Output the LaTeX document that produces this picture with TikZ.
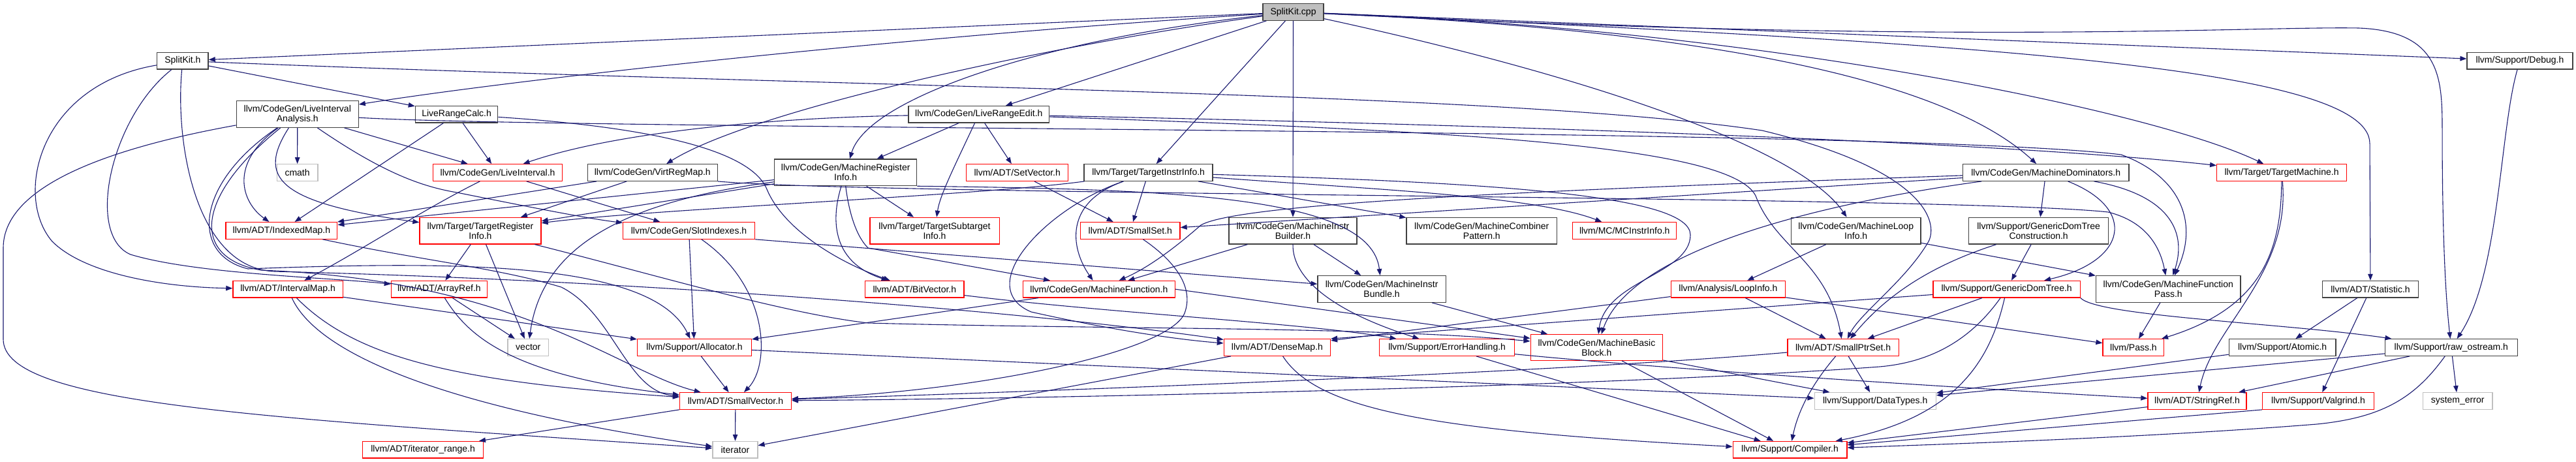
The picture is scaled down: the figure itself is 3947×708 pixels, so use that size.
\documentclass[tikz,border=0pt]{standalone}
\usepackage{fontspec}
\setmainfont{Liberation Sans}
\usetikzlibrary{arrows.meta}
\definecolor{edgec}{HTML}{191970}
\definecolor{redb}{HTML}{FF0000}
\definecolor{grayb}{HTML}{BFBFBF}
\definecolor{blackb}{HTML}{404040}
\definecolor{cppfill}{HTML}{BFBFBF}
\begin{document}
\begin{tikzpicture}[x=1pt,y=-1pt,
  box/.style={rectangle,line width=1.3pt,fill=white,inner sep=0pt,align=center,
    font=\fontsize{14}{15}\selectfont,minimum height=25.5pt},
  bbox/.style={box,draw=blackb},
  rbox/.style={box,draw=redb},
  gbox/.style={box,draw=grayb},
  two/.style={minimum height=40.6pt},
  e/.style={draw=edgec,line width=1.1pt,-{Triangle[length=10pt,width=7.5pt]}}]
\useasboundingbox (0,0) rectangle (3947,708);
% nodes
\node[bbox,fill=cppfill,minimum width=93pt] (cpp) at (1981.5,18.5) {SplitKit.cpp};
\node[bbox,minimum width=78.3pt,minimum height=25.7pt] (skh) at (279.9,93.2) {SplitKit.h};
\node[bbox,minimum width=162pt,minimum height=25.7pt] (dbg) at (3861,93.2) {llvm/Support/Debug.h};
\node[bbox,two,minimum width=186.8pt] (lia) at (455.8,175) {llvm/CodeGen/LiveInterval\\Analysis.h};
\node[bbox,minimum width=126.4pt] (lrc) at (699.6,175.2) {LiveRangeCalc.h};
\node[bbox,minimum width=215.9pt] (lre) at (1499.8,175.2) {llvm/CodeGen/LiveRangeEdit.h};
\node[gbox,minimum width=62.8pt] (cmath) at (455.6,264.5) {cmath};
\node[rbox,minimum width=198.2pt] (li) at (762.6,264.5) {llvm/CodeGen/LiveInterval.h};
\node[bbox,minimum width=198.7pt] (vrm) at (999.8,264.5) {llvm/CodeGen/VirtRegMap.h};
\node[bbox,two,minimum width=218.2pt] (mri) at (1295.7,264.3) {llvm/CodeGen/MachineRegister\\Info.h};
\node[rbox,minimum width=156.1pt] (setv) at (1558.7,264.5) {llvm/ADT/SetVector.h};
\node[bbox,minimum width=197pt] (tii) at (1759.6,264.5) {llvm/Target/TargetInstrInfo.h};
\node[bbox,minimum width=254.6pt] (md) at (3134.7,264.5) {llvm/CodeGen/MachineDominators.h};
\node[rbox,minimum width=198.6pt] (tm) at (3496,264.5) {llvm/Target/TargetMachine.h};
\node[rbox,minimum width=170.8pt] (imap) at (431.4,353.4) {llvm/ADT/IndexedMap.h};
\node[rbox,two,minimum width=186pt] (tri) at (736,353.7) {llvm/Target/TargetRegister\\Info.h};
\node[rbox,minimum width=201.6pt] (si) at (1055.5,353.4) {llvm/CodeGen/SlotIndexes.h};
\node[rbox,two,minimum width=198.3pt] (tsi) at (1432,353.7) {llvm/Target/TargetSubtarget\\Info.h};
\node[rbox,minimum width=152.4pt] (sset) at (1731.8,353.4) {llvm/ADT/SmallSet.h};
\node[bbox,two,minimum width=196pt] (mib) at (1981,353.7) {llvm/CodeGen/MachineInstr\\Builder.h};
\node[bbox,two,minimum width=230.6pt] (mcp) at (2270.3,353.7) {llvm/CodeGen/MachineCombiner\\Pattern.h};
\node[rbox,minimum width=159.1pt] (mcii) at (2489.2,353.4) {llvm/MC/MCInstrInfo.h};
\node[bbox,two,minimum width=198.6pt] (mli) at (2843.7,353.7) {llvm/CodeGen/MachineLoop\\Info.h};
\node[bbox,two,minimum width=213.8pt] (gdtc) at (3123.6,353.7) {llvm/Support/GenericDomTree\\Construction.h};
\node[rbox,minimum width=168.4pt] (ivm) at (441.1,443.2) {llvm/ADT/IntervalMap.h};
\node[rbox,minimum width=147.1pt] (aref) at (672.9,443.2) {llvm/ADT/ArrayRef.h};
\node[rbox,minimum width=151.1pt] (bv) at (1401.3,443.2) {llvm/ADT/BitVector.h};
\node[rbox,minimum width=233.1pt] (mf) at (1683.9,443.2) {llvm/CodeGen/MachineFunction.h};
\node[bbox,two,minimum width=196.2pt] (mibun) at (2117.1,443) {llvm/CodeGen/MachineInstr\\Bundle.h};
\node[rbox,minimum width=175.2pt] (loop) at (2647.9,443.2) {llvm/Analysis/LoopInfo.h};
\node[rbox,minimum width=225.1pt] (gdt) at (3074.6,443.2) {llvm/Support/GenericDomTree.h};
\node[bbox,two,minimum width=221.6pt] (mfp) at (3322.3,443) {llvm/CodeGen/MachineFunction\\Pass.h};
\node[bbox,minimum width=147.2pt] (stat) at (3632,443.2) {llvm/ADT/Statistic.h};
\node[gbox,minimum width=62.8pt] (vec) at (809.3,532.5) {vector};
\node[rbox,minimum width=174.7pt] (alloc) at (1064,532.5) {llvm/Support/Allocator.h};
\node[rbox,minimum width=163.1pt] (dmap) at (1956.9,532.5) {llvm/ADT/DenseMap.h};
\node[rbox,minimum width=206.7pt] (eh) at (2217.1,532.5) {llvm/Support/ErrorHandling.h};
\node[rbox,two,minimum width=202.4pt,minimum height=39.6pt] (mbb) at (2446.4,532.5) {llvm/CodeGen/MachineBasic\\Block.h};
\node[rbox,minimum width=170.4pt] (sps) at (2824.1,532.5) {llvm/ADT/SmallPtrSet.h};
\node[rbox,minimum width=93.8pt] (pass) at (3268.9,532.5) {llvm/Pass.h};
\node[bbox,minimum width=163.6pt] (atom) at (3497.1,532.5) {llvm/Support/Atomic.h};
\node[bbox,minimum width=202.7pt] (ros) at (3755.8,532.5) {llvm/Support/raw\_ostream.h};
\node[rbox,minimum width=170.9pt] (svec) at (1126.9,614.5) {llvm/ADT/SmallVector.h};
\node[gbox,minimum width=186.1pt] (dt) at (2873.2,614.5) {llvm/Support/DataTypes.h};
\node[rbox,minimum width=151.1pt] (sref) at (3366.5,614.5) {llvm/ADT/StringRef.h};
\node[rbox,minimum width=171.2pt] (valg) at (3552,614.5) {llvm/Support/Valgrind.h};
\node[gbox,minimum width=106.7pt] (syserr) at (3765.6,614.5) {system\_error};
\node[rbox,minimum width=184.9pt] (itr) at (648.1,689.2) {llvm/ADT/iterator\_range.h};
\node[gbox,minimum width=69pt] (iter) at (1126.4,689.2) {iterator};
\node[rbox,minimum width=174.7pt] (comp) at (2742.5,689.2) {llvm/Support/Compiler.h};
% SplitKit.cpp
\draw[e] (cpp) -- (skh);
\draw[e] (cpp) .. controls (1400,55) and (800,120) .. (lia);
\draw[e] (cpp) .. controls (1600,70) and (1150,170) .. (vrm);
\draw[e] (cpp) .. controls (1600,60) and (1330,150) .. (mri);
\draw[e] (cpp) -- (lre);
\draw[e] (cpp) -- (tii);
\draw[e] (cpp) -- (mib);
\draw[e] (cpp) .. controls (2450,120) and (2760,230) .. (mli);
\draw[e] (cpp) .. controls (2700,50) and (3000,140) .. (md);
\draw[e] (cpp) .. controls (2700,45) and (3300,170) .. (tm);
\draw[e] (cpp) .. controls (3000,65) and (3631,100) .. (3631,220) -- (stat);
\draw[e] (cpp) .. controls (3000,70) and (3450,40) .. (3614,43) .. controls (3740,48) and (3742,120) .. (3742,200) .. controls (3742,400) and (3750,480) .. (ros);
\draw[e] (cpp) -- (dbg);
% SplitKit.h
\draw[e] (skh) -- (lrc);
\draw[e] (skh) .. controls (60,130) and (20,300) .. (80,370) .. controls (130,420) and (250,440) .. (ivm);
\draw[e] (skh) .. controls (170,180) and (130,360) .. (200,390) .. controls (300,420) and (500,425) .. (aref);
\draw[e] (skh) .. controls (268,220) and (300,410) .. (420,416) .. controls (1000,430) and (1600,480) .. (dmap);
\draw[e] (skh) .. controls (1300,135) and (2300,140) .. (2700,200) .. controls (2950,260) and (2970,340) .. (2955,370) .. controls (2920,430) and (2850,480) .. (sps);
% LiveIntervalAnalysis.h
\draw[e] (lia) -- (cmath);
\draw[e] (lia) .. controls (150,230) and (5,290) .. (5,380) -- (5,520) .. controls (5,620) and (400,640) .. (iter);
\draw[e] (lia) .. controls (350,250) and (370,310) .. (imap);
\draw[e] (lia) .. controls (395,270) and (420,310) .. (tri);
\draw[e] (lia) -- (li);
\draw[e] (lia) .. controls (580,260) and (640,285) .. (700,295) .. controls (800,315) and (900,335) .. (si);
\draw[e] (lia) .. controls (900,200) and (2900,195) .. (3250,237) .. controls (3340,270) and (3370,340) .. (mfp);
\draw[e] (lia) .. controls (300,280) and (290,390) .. (380,412) .. controls (700,400) and (1000,400) .. (alloc);
\draw[e] (lia) .. controls (300,300) and (290,395) .. (400,414) .. controls (800,430) and (950,570) .. (svec);
% LiveRangeCalc.h
\draw[e] (lrc) -- (li);
\draw[e] (lrc) -- (imap);
\draw[e] (lrc) .. controls (1000,195) and (1150,230) .. (1175,290) .. controls (1200,350) and (1280,400) .. (bv);
% LiveRangeEdit.h
\draw[e] (lre) .. controls (1200,180) and (950,200) .. (li);
\draw[e] (lre) -- (mri);
\draw[e] (lre) .. controls (1460,260) and (1440,300) .. (tsi);
\draw[e] (lre) -- (setv);
\draw[e] (lre) .. controls (2000,185) and (3000,210) .. (tm);
\draw[e] (lre) .. controls (2200,200) and (2650,220) .. (2690,300) .. controls (2720,380) and (2800,400) .. (sps);
% VirtRegMap.h
\draw[e] (vrm) -- (imap);
\draw[e] (vrm) -- (tri);
\draw[e] (vrm.south east) .. controls (1350,300) and (3000,300) .. (3230,325) .. controls (3290,340) and (3310,380) .. (mfp);
% MachineRegisterInfo.h
\draw[e] (mri) -- (imap);
\draw[e] (mri) -- (tri);
\draw[e] (mri) .. controls (950,310) and (830,380) .. (vec);
\draw[e] (mri) -- (tsi);
\draw[e] (mri) .. controls (1275,330) and (1270,400) .. (bv);
\draw[e] (mri.south) .. controls (1300,320) and (1310,360) .. (1330,380) -- (mf);
\draw[e] (mri.south east) .. controls (1800,290) and (2100,300) .. (mibun);
% TargetInstrInfo.h
\draw[e] (tii) .. controls (1500,300) and (1000,320) .. (tri);
\draw[e] (tii) .. controls (1600,320) and (1490,440) .. (1580,478) .. controls (1700,505) and (1800,520) .. (dmap);
\draw[e] (tii) .. controls (1630,310) and (1640,380) .. (mf);
\draw[e] (tii) -- (sset);
\draw[e] (tii) -- (mcp);
\draw[e] (tii) .. controls (2100,290) and (2350,300) .. (mcii);
\draw[e] (tii) .. controls (2300,280) and (2590,300) .. (2590,360) .. controls (2590,420) and (2460,430) .. (mbb);
% MachineDominators.h
\draw[e] (md) -- (sset);
\draw[e] (md) .. controls (2400,290) and (1900,310) .. (1840,345) .. controls (1800,380) and (1760,410) .. (mf);
\draw[e] (md) .. controls (2800,310) and (2500,380) .. (mbb);
\draw[e] (md) -- (gdtc);
\draw[e] (md) .. controls (3275,320) and (3260,400) .. (gdt);
\draw[e] (md) .. controls (3330,300) and (3350,360) .. (mfp);
% MachineInstrBuilder.h
\draw[e] (mib) -- (mf);
\draw[e] (mib) -- (mibun);
\draw[e] (mib.south) .. controls (1980,430) and (2050,480) .. (eh);
% MachineLoopInfo.h
\draw[e] (mli) -- (loop);
\draw[e] (mli) -- (mfp);
% GenericDomTreeConstruction.h
\draw[e] (gdtc) .. controls (2980,400) and (2900,440) .. (sps);
\draw[e] (gdtc) -- (gdt);
% others
\draw[e] (mibun) -- (mbb);
\draw[e] (mfp) -- (pass);
\draw[e] (stat) -- (atom);
\draw[e] (stat) -- (valg);
\draw[e] (dbg) .. controls (3830,200) and (3830,420) .. (ros);
\draw[e] (atom) -- (dt);
\draw[e] (ros) -- (dt);
\draw[e] (ros) -- (sref);
\draw[e] (ros) .. controls (3700,610) and (3650,640) .. (3550,650) .. controls (3300,670) and (3000,680) .. (comp);
\draw[e] (ros) -- (syserr);
\draw[e] (tm) .. controls (3495,380) and (3470,470) .. (pass);
\draw[e] (tm) .. controls (3510,420) and (3390,500) .. (sref);
\draw[e] (li) -- (si);
\draw[e] (li) .. controls (650,320) and (560,380) .. (ivm);
\draw[e] (imap) .. controls (650,400) and (760,410) .. (860,440) .. controls (940,480) and (960,600) .. (svec);
\draw[e] (tri) -- (aref);
\draw[e] (tri) -- (vec);
\draw[e] (tri) .. controls (1000,420) and (1200,480) .. (1330,495) .. controls (1700,505) and (2100,500) .. (mbb);
\draw[e] (si) -- (alloc);
\draw[e] (si) .. controls (1180,440) and (1180,560) .. (svec);
\draw[e] (si.south east) -- (mibun);
\draw[e] (setv) -- (sset);
\draw[e] (sset) .. controls (1800,400) and (1830,440) .. (1815,480) .. controls (1790,540) and (1500,600) .. (svec);
\draw[e] (mf) -- (alloc);
\draw[e] (mf.east) -- (mbb);
\draw[e] (bv) .. controls (1700,480) and (2000,495) .. (eh);
\draw[e] (aref) -- (vec);
\draw[e] (aref) .. controls (713,507) and (770,575) .. (svec);
\draw[e] (ivm) -- (alloc);
\draw[e] (ivm) .. controls (547,550) and (700,585) .. (svec);
\draw[e] (ivm) .. controls (484,537) and (660,622) .. (iter);
\draw[e] (alloc) -- (svec);
\draw[e] (alloc) -- (dt);
\draw[e] (svec) -- (iter);
\draw[e] (svec) -- (itr);
\draw[e] (dmap) -- (iter);
\draw[e] (dmap) .. controls (2020,630) and (2200,660) .. (comp);
\draw[e] (eh) -- (comp);
\draw[e] (eh) .. controls (2600,570) and (3100,600) .. (sref);
\draw[e] (mbb) -- (dt);
\draw[e] (mbb) -- (comp);
\draw[e] (sps) -- (dt);
\draw[e] (sps) .. controls (2775,590) and (2755,630) .. (comp);
\draw[e] (sps) .. controls (2400,570) and (1600,600) .. (svec);
\draw[e] (loop) -- (sps);
\draw[e] (loop) -- (pass);
\draw[e] (loop) -- (dmap);
\draw[e] (gdt) -- (sps);
\draw[e] (gdt) .. controls (3050,550) and (3000,640) .. (comp);
\draw[e] (gdt) -- (dmap.north east);
\draw[e] (gdt) .. controls (3020,520) and (2960,555) .. (2880,562) .. controls (2500,590) and (1700,610) .. (svec);
\draw[e] (gdt.south east) .. controls (3215,485) and (3500,495) .. (ros);
\draw[e] (valg.south west) -- (comp);
\draw[e] (sref) -- (comp);
\end{tikzpicture}
\end{document}
